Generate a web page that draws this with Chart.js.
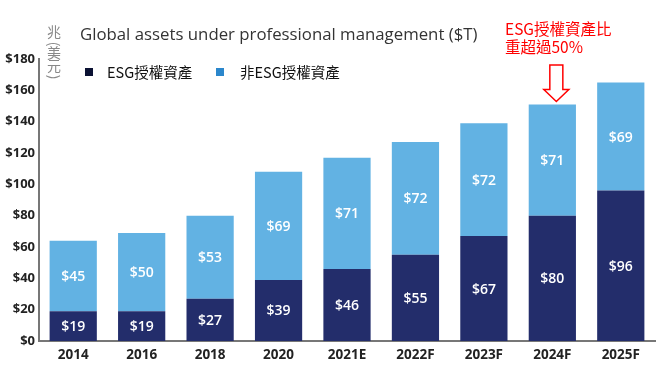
<!DOCTYPE html>
<html>
<head>
<meta charset="utf-8">
<script src="https://cdn.jsdelivr.net/npm/chart.js@4.4.1/dist/chart.umd.min.js"></script>
<style>
  html, body { margin: 0; padding: 0; background: #fff; }
  #wrap { width: 660px; height: 370px; }
</style>
</head>
<body>
<div id="wrap"><canvas id="chart"></canvas></div>
<script>
const years = ['2014', '2016', '2018', '2020', '2021E', '2022F', '2023F', '2024F', '2025F'];
const esgValues = [19, 19, 27, 39, 46, 55, 67, 80, 96];
const nonEsgValues = [45, 50, 53, 69, 71, 72, 72, 71, 69];
const seriesNames = ['ESG授權資產', '非ESG授權資產'];
const titleText = 'Global assets under professional management ($T)';
const unitChars = ['兆', '(', '美', '元', ')'];
const noteLines = ['ESG授權資產比', '重超過50%'];
const noteYear = '2024F';

const NAVY = '#232d6b', LIGHT = '#62b2e3';
const LATIN = '"Open Sans", "Noto Sans CJK TC", sans-serif';
const CJK = '"Noto Sans CJK TC", "Noto Sans", sans-serif';

// white $ labels in the middle of every segment
const segLabels = {
  id: 'segLabels',
  afterDatasetsDraw(chart) {
    const ctx = chart.ctx;
    ctx.save();
    ctx.fillStyle = '#fff';
    ctx.font = '600 14px ' + LATIN;
    ctx.textAlign = 'center';
    ctx.textBaseline = 'middle';
    chart.data.datasets.forEach((ds, di) => {
      chart.getDatasetMeta(di).data.forEach((el, i) => {
        ctx.fillText('$' + ds.data[i], el.x, (el.y + el.base) / 2 + 1);
      });
    });
    ctx.restore();
  }
};

// title, unit label, legend, red note + arrow
const extras = {
  id: 'extras',
  afterDraw(chart) {
    const ctx = chart.ctx;
    ctx.save();
    ctx.textBaseline = 'middle';

    ctx.fillStyle = '#333';
    ctx.font = '16.8px ' + LATIN;
    ctx.textAlign = 'left';
    ctx.fillText(titleText, 80, 35);

    ctx.fillStyle = '#888';
    ctx.font = '14px ' + CJK;
    ctx.textAlign = 'center';
    const unitY = [32, 44, 53, 66, 77];
    unitChars.forEach((ch, i) => {
      if (ch === '(' || ch === ')') {
        ctx.save();
        ctx.translate(54, unitY[i]);
        ctx.rotate(Math.PI / 2);
        ctx.fillText(ch, 0, 0);
        ctx.restore();
      } else {
        ctx.fillText(ch, 54, unitY[i]);
      }
    });

    ctx.textAlign = 'left';
    ctx.font = '14.5px ' + CJK;
    ctx.fillStyle = '#0b1233';
    ctx.fillRect(85, 68, 8, 8);
    ctx.fillStyle = '#111';
    ctx.fillText(seriesNames[0], 107, 72);
    ctx.fillStyle = '#2b87cc';
    ctx.fillRect(216, 68, 8, 8);
    ctx.fillStyle = '#111';
    ctx.fillText(seriesNames[1], 240, 72);

    ctx.fillStyle = '#ff0000';
    ctx.font = '15.5px ' + CJK;
    ctx.fillText(noteLines[0], 505, 29);
    ctx.fillText(noteLines[1], 505, 47);

    const xs = chart.scales.x, ys = chart.scales.y;
    const idx = years.indexOf(noteYear);
    const cx = xs.getPixelForValue(idx) + 4;
    const tip = ys.getPixelForValue(esgValues[idx] + nonEsgValues[idx]) - 3;
    ctx.strokeStyle = '#ff0000';
    ctx.lineWidth = 1.5;
    ctx.beginPath();
    ctx.moveTo(cx - 6.5, 65);
    ctx.lineTo(cx + 6.5, 65);
    ctx.lineTo(cx + 6.5, tip - 12);
    ctx.lineTo(cx + 12.5, tip - 12);
    ctx.lineTo(cx, tip);
    ctx.lineTo(cx - 12.5, tip - 12);
    ctx.lineTo(cx - 6.5, tip - 12);
    ctx.closePath();
    ctx.stroke();
    ctx.restore();
  }
};

new Chart(document.getElementById('chart'), {
  type: 'bar',
  data: {
    labels: years,
    datasets: [
      { label: seriesNames[0], data: esgValues, backgroundColor: NAVY, barPercentage: 0.69, categoryPercentage: 1 },
      { label: seriesNames[1], data: nonEsgValues, backgroundColor: LIGHT, barPercentage: 0.69, categoryPercentage: 1 }
    ]
  },
  options: {
    responsive: true, maintainAspectRatio: false, animation: false,
    layout: { padding: { top: 59, right: 5, left: 0, bottom: 0 } },
    plugins: { legend: { display: false }, tooltip: { enabled: false } },
    scales: {
      x: {
        stacked: true,
        grid: { display: false, drawTicks: false },
        border: { color: '#777', width: 2 },
        ticks: { padding: 6, color: '#222', font: { family: LATIN, size: 13.5, weight: '700' } },
        afterFit: s => { s.height = 29; }
      },
      y: {
        stacked: true, min: 0, max: 180,
        grid: { display: false, drawTicks: false },
        border: { color: '#777', width: 2 },
        ticks: { stepSize: 20, padding: 4, color: '#222', callback: v => '$' + v,
                 font: { family: LATIN, size: 13, weight: '700' } },
        afterFit: s => { s.width = 39; }
      }
    }
  },
  plugins: [segLabels, extras]
});
</script>
</body>
</html>
